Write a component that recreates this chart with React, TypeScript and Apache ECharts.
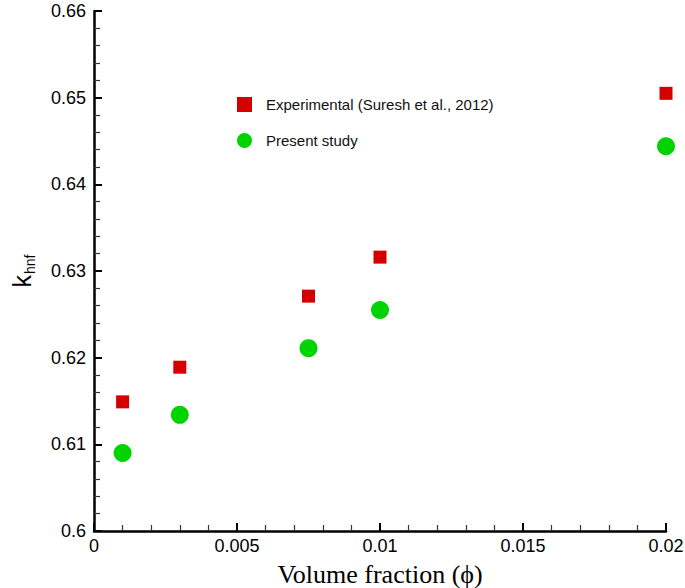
import React, { useEffect, useRef } from "react";
import * as echarts from "echarts";

const volumeFraction = [0.001, 0.003, 0.0075, 0.01, 0.02];
const experimental = [0.6149, 0.6189, 0.6271, 0.6316, 0.6505];
const present = [0.609, 0.6134, 0.6211, 0.6255, 0.6444];
const seriesNames = ["Experimental (Suresh et al., 2012)", "Present study"];

export default function App() {
  const ref = useRef<HTMLDivElement>(null);
  useEffect(() => {
    if (!ref.current) return;
    const chart = echarts.init(ref.current, null, { renderer: "svg" });
    const sans = "'Liberation Sans', Arial, Helvetica, sans-serif";
    chart.setOption({
      animation: false,
      backgroundColor: "#ffffff",
      grid: { left: 94, right: 19, top: 11, bottom: 57, containLabel: false, outerBoundsMode: "none" },
      legend: {
        orient: "vertical",
        left: 232,
        top: 92,
        itemWidth: 15,
        itemHeight: 15,
        itemGap: 21,
        textStyle: { fontFamily: sans, fontSize: 15, color: "#111", padding: [0, 0, 0, 9] },
        data: [
          { name: seriesNames[0], icon: "rect" },
          { name: seriesNames[1], icon: "circle" },
        ],
      },
      xAxis: {
        type: "value",
        min: 0,
        max: 0.02,
        interval: 0.005,
        splitLine: { show: false },
        axisLine: { lineStyle: { color: "#000", width: 2.5 } },
        axisTick: { inside: true, length: 8, lineStyle: { color: "#000", width: 2 } },
        minorTick: { show: true, splitNumber: 5, length: 6, lineStyle: { color: "#333", width: 1.2 } },
        axisLabel: {
          fontFamily: sans,
          fontSize: 18,
          color: "#000",
          margin: 6,
          formatter: (v: number) => String(parseFloat(v.toFixed(4))),
        },
        name: "Volume fraction (\u03D5)",
        nameLocation: "middle",
        nameGap: 30,
        nameTextStyle: { fontFamily: "'Liberation Serif', 'Times New Roman', serif", fontSize: 26, color: "#000" },
      },
      yAxis: {
        type: "value",
        min: 0.6,
        max: 0.66,
        interval: 0.01,
        splitLine: { show: false },
        axisLine: { lineStyle: { color: "#000", width: 2.5 } },
        axisTick: { inside: true, length: 8, lineStyle: { color: "#000", width: 2 } },
        minorTick: { show: true, splitNumber: 5, length: 6, lineStyle: { color: "#333", width: 1.2 } },
        axisLabel: {
          fontFamily: sans,
          fontSize: 18,
          color: "#000",
          margin: 8,
          formatter: (v: number) => String(parseFloat(v.toFixed(4))),
        },
        name: "{k|k}{s|hnf}",
        nameLocation: "middle",
        nameGap: 60,
        nameTextStyle: {
          fontFamily: sans,
          color: "#000",
          rich: {
            k: { fontFamily: sans, fontSize: 25, color: "#000", verticalAlign: "bottom" },
            s: { fontFamily: sans, fontSize: 14, color: "#000", verticalAlign: "bottom", padding: [0, 0, -3, 1] },
          },
        },
      },
      series: [
        {
          name: seriesNames[0],
          type: "scatter",
          symbol: "rect",
          symbolSize: 13,
          itemStyle: { color: "#d40000", opacity: 1 },
          data: volumeFraction.map((x, i) => [x, experimental[i]]),
        },
        {
          name: seriesNames[1],
          type: "scatter",
          symbol: "circle",
          symbolSize: 18,
          itemStyle: { color: "#00d400", opacity: 1 },
          data: volumeFraction.map((x, i) => [x, present[i]]),
        },
      ],
    });
    return () => chart.dispose();
  }, []);
  return <div ref={ref} style={{ width: 685, height: 588, position: "absolute", left: 0, top: 0 }} />;
}
